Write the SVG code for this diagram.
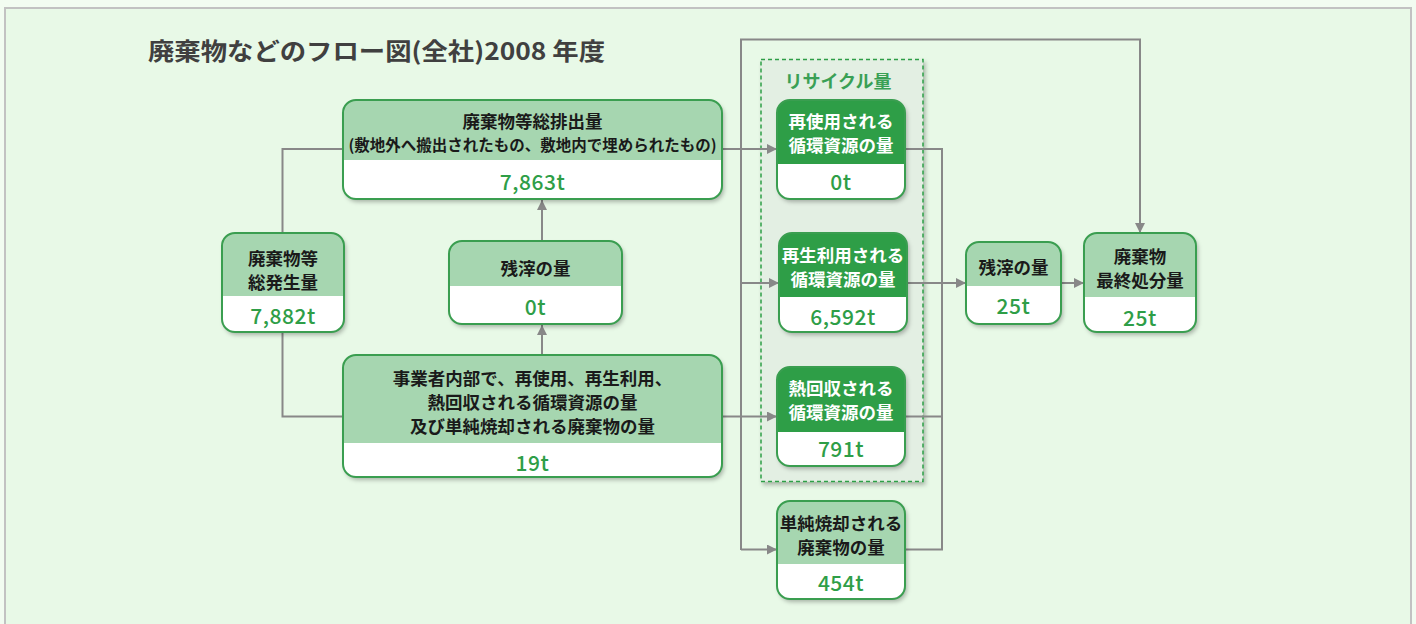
<svg xmlns="http://www.w3.org/2000/svg" width="1416" height="624" viewBox="0 0 1416 624">
<defs>
<filter id="sh" x="-20%" y="-20%" width="140%" height="140%">
<feDropShadow dx="2" dy="3" stdDeviation="2" flood-color="#000" flood-opacity="0.28"/>
</filter>
<marker id="ah" viewBox="0 0 10 10" refX="10" refY="5" markerWidth="10" markerHeight="10" markerUnits="userSpaceOnUse" orient="auto">
<path d="M0,0 L10,5 L0,10 z" fill="#888"/>
</marker>
<style>
.panel{fill:#e8f9e7;stroke:#c2c2c2;stroke-width:2}
.title{font-family:"Noto Sans CJK JP","Noto Sans",sans-serif;font-weight:700;font-size:24px;fill:#404040}
.body{fill:#fff}
.hl{fill:#a6d6b0}
.hd{fill:#2e9e47}
.frame{fill:none;stroke:#3a9e50;stroke-width:2}
.lbl{font-family:"Noto Sans CJK JP",sans-serif;font-weight:700;font-size:17.5px;fill:#1a1a1a;text-anchor:middle;dominant-baseline:central}
.lblw{fill:#fff}
.sm{font-size:15.5px}
.val{font-family:"Noto Sans CJK JP","Noto Sans",sans-serif;font-weight:500;font-size:21px;fill:#2e9e47;text-anchor:middle;dominant-baseline:central;letter-spacing:0.5px}
.rec{fill:#e3efe3;stroke:#2e9e47;stroke-width:1.5;stroke-dasharray:4 3}
.rlbl{font-family:"Noto Sans CJK JP",sans-serif;font-weight:700;font-size:18px;fill:#3aa055;text-anchor:middle;dominant-baseline:central}
.ln{fill:none;stroke:#888;stroke-width:2}
</style>
</defs>
<rect x="0" y="0" width="1416" height="624" fill="#f2fcf1"/>
<rect class="panel" x="5" y="8" width="1406" height="630"/>
<text class="title" x="148" y="60" textLength="457" lengthAdjust="spacingAndGlyphs">廃棄物などのフロー図(全社)2008 年度</text>

<g id="recycle-group">
<rect class="rec" x="761" y="59.5" width="162" height="422" filter="url(#sh)"/>
<text class="rlbl" x="838" y="80">リサイクル量</text>
</g>

<g id="connectors">
<path class="ln" d="M282.5,233 V149 H343"/>
<path class="ln" d="M282.5,332 V416.5 H343"/>
<path class="ln" d="M542,355 V325" marker-end="url(#ah)"/>
<path class="ln" d="M542,241 V200" marker-end="url(#ah)"/>
<path class="ln" d="M722,149 H777" marker-end="url(#ah)"/>
<path class="ln" d="M741,550 V39.5 H1140 V233" marker-end="url(#ah)"/>
<path class="ln" d="M741,283 H779" marker-end="url(#ah)"/>
<path class="ln" d="M722,416.5 H777" marker-end="url(#ah)"/>
<path class="ln" d="M741,549.5 H777" marker-end="url(#ah)"/>
<path class="ln" d="M905,149 H942 V549.5 H905"/>
<path class="ln" d="M905,416.5 H942"/>
<path class="ln" d="M907,283 H966" marker-end="url(#ah)"/>
<path class="ln" d="M1061,283 H1084" marker-end="url(#ah)"/>
</g>

<g id="node-total-discharge">
<rect class="body" x="343" y="100" width="379" height="99" rx="13" filter="url(#sh)"/>
<path class="hl" d="M343,160 V113 A13,13 0 0 1 356,100 H709 A13,13 0 0 1 722,113 V160 Z"/>
<rect class="frame" x="343" y="100" width="379" height="99" rx="13"/>
<text class="lbl" x="532.5" y="120">廃棄物等総排出量</text>
<text class="lbl sm" x="532.5" y="143.5">(敷地外へ搬出されたもの、敷地内で埋められたもの)</text>
<text class="val" x="532.5" y="181">7,863t</text>
</g>

<g id="node-total-generated">
<rect class="body" x="222" y="233" width="122" height="99" rx="13" filter="url(#sh)"/>
<path class="hl" d="M222,296 V246 A13,13 0 0 1 235,233 H331 A13,13 0 0 1 344,246 V296 Z"/>
<rect class="frame" x="222" y="233" width="122" height="99" rx="13"/>
<text class="lbl" x="283" y="257">廃棄物等</text>
<text class="lbl" x="283" y="281">総発生量</text>
<text class="val" x="283" y="315">7,882t</text>
</g>

<g id="node-residue-internal">
<rect class="body" x="449" y="241" width="173" height="83" rx="13" filter="url(#sh)"/>
<path class="hl" d="M449,286 V254 A13,13 0 0 1 462,241 H609 A13,13 0 0 1 622,254 V286 Z"/>
<rect class="frame" x="449" y="241" width="173" height="83" rx="13"/>
<text class="lbl" x="535.5" y="267">残滓の量</text>
<text class="val" x="535.5" y="306">0t</text>
</g>

<g id="node-internal">
<rect class="body" x="343" y="355" width="379" height="122" rx="13" filter="url(#sh)"/>
<path class="hl" d="M343,443 V368 A13,13 0 0 1 356,355 H709 A13,13 0 0 1 722,368 V443 Z"/>
<rect class="frame" x="343" y="355" width="379" height="122" rx="13"/>
<text class="lbl" x="532.5" y="377">事業者内部で、再使用、再生利用、</text>
<text class="lbl" x="532.5" y="401">熱回収される循環資源の量</text>
<text class="lbl" x="532.5" y="425">及び単純焼却される廃棄物の量</text>
<text class="val" x="532.5" y="462">19t</text>
</g>

<g id="node-reuse">
<rect class="body" x="777" y="100" width="128" height="99" rx="13" filter="url(#sh)"/>
<path class="hd" d="M777,164 V113 A13,13 0 0 1 790,100 H892 A13,13 0 0 1 905,113 V164 Z"/>
<rect class="frame" x="777" y="100" width="128" height="99" rx="13"/>
<text class="lbl lblw" x="841" y="120.5">再使用される</text>
<text class="lbl lblw" x="841" y="144">循環資源の量</text>
<text class="val" x="841" y="181">0t</text>
</g>

<g id="node-recycle">
<rect class="body" x="779" y="233" width="128" height="99" rx="13" filter="url(#sh)"/>
<path class="hd" d="M779,297 V246 A13,13 0 0 1 792,233 H894 A13,13 0 0 1 907,246 V297 Z"/>
<rect class="frame" x="779" y="233" width="128" height="99" rx="13"/>
<text class="lbl lblw" x="843" y="254.5">再生利用される</text>
<text class="lbl lblw" x="843" y="278">循環資源の量</text>
<text class="val" x="843" y="316">6,592t</text>
</g>

<g id="node-heat">
<rect class="body" x="777" y="367" width="128" height="99" rx="13" filter="url(#sh)"/>
<path class="hd" d="M777,432 V380 A13,13 0 0 1 790,367 H892 A13,13 0 0 1 905,380 V432 Z"/>
<rect class="frame" x="777" y="367" width="128" height="99" rx="13"/>
<text class="lbl lblw" x="841" y="387.5">熱回収される</text>
<text class="lbl lblw" x="841" y="411">循環資源の量</text>
<text class="val" x="841" y="448">791t</text>
</g>

<g id="node-incineration">
<rect class="body" x="777" y="501" width="128" height="98" rx="13" filter="url(#sh)"/>
<path class="hl" d="M777,564 V514 A13,13 0 0 1 790,501 H892 A13,13 0 0 1 905,514 V564 Z"/>
<rect class="frame" x="777" y="501" width="128" height="98" rx="13"/>
<text class="lbl" x="841" y="522.5">単純焼却される</text>
<text class="lbl" x="841" y="546">廃棄物の量</text>
<text class="val" x="841" y="582">454t</text>
</g>

<g id="node-residue">
<rect class="body" x="966" y="242" width="95" height="82" rx="13" filter="url(#sh)"/>
<path class="hl" d="M966,286 V255 A13,13 0 0 1 979,242 H1048 A13,13 0 0 1 1061,255 V286 Z"/>
<rect class="frame" x="966" y="242" width="95" height="82" rx="13"/>
<text class="lbl" x="1013.5" y="266">残滓の量</text>
<text class="val" x="1013.5" y="305">25t</text>
</g>

<g id="node-final">
<rect class="body" x="1084" y="233" width="112" height="99" rx="13" filter="url(#sh)"/>
<path class="hl" d="M1084,297 V246 A13,13 0 0 1 1097,233 H1183 A13,13 0 0 1 1196,246 V297 Z"/>
<rect class="frame" x="1084" y="233" width="112" height="99" rx="13"/>
<text class="lbl" x="1140" y="255">廃棄物</text>
<text class="lbl" x="1140" y="279">最終処分量</text>
<text class="val" x="1140" y="317">25t</text>
</g>
</svg>
